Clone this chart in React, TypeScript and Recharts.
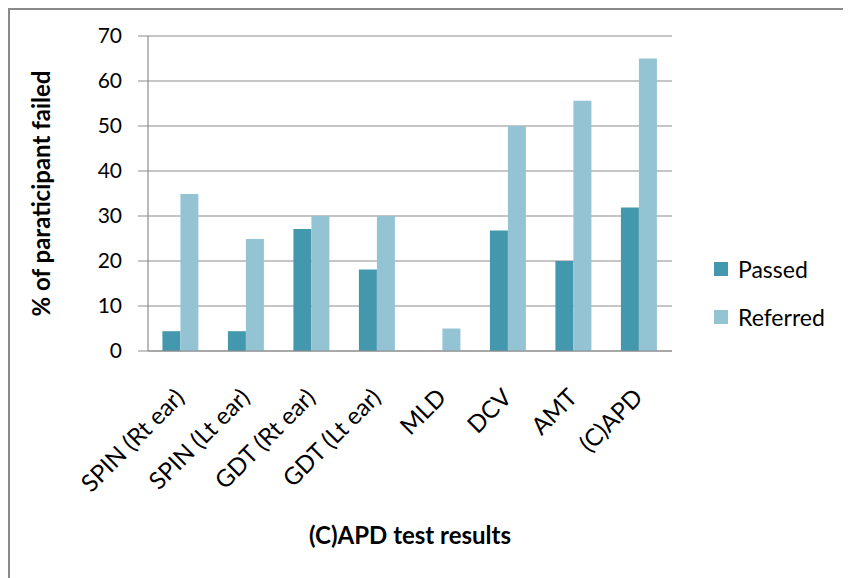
import React from 'react'
import { BarChart, Bar, XAxis, YAxis, CartesianGrid } from 'recharts'

const tests = ['SPIN (Rt ear)', 'SPIN (Lt ear)', 'GDT (Rt ear)', 'GDT (Lt ear)', 'MLD', 'DCV', 'AMT', '(C)APD']
const passed = [4.4, 4.4, 27.1, 18.1, 0, 26.8, 20, 31.9]
const referred = [34.9, 24.9, 30, 30, 5, 50, 55.6, 65]
const yTicks = [0, 10, 20, 30, 40, 50, 60, 70]

const PASSED_COLOR = '#4398ae'
const REFERRED_COLOR = '#94c4d4'
const FONT = 'Lato, "Open Sans", sans-serif'

const data = tests.map((name, i) => ({ name, passed: passed[i], referred: referred[i] }))

// rotated category labels, ending just under the tick
const AngledTick = (props: any) => {
  const { x, y, payload } = props
  return (
    <g transform={`translate(${x - 1},${y + 34})`}>
      <text
        transform="rotate(-45)"
        textAnchor="end"
        dy="0.35em"
        fontSize={24}
        fontFamily={FONT}
        fill="#000"
      >
        {payload.value}
      </text>
    </g>
  )
}

export default function App() {
  return (
    <div
      style={{
        position: 'relative',
        width: 841,
        height: 568,
        borderLeft: '2px solid #8a8a8a',
        borderTop: '2px solid #8a8a8a',
        background: '#fff',
        fontFamily: FONT,
      }}
    >
      <BarChart
        width={841}
        height={568}
        data={data}
        margin={{ top: 26, right: 179, bottom: 0, left: 0 }}
        barCategoryGap="22%"
        barGap={0}
      >
        <CartesianGrid vertical={false} stroke="#8c8c8c" strokeWidth={1.2} />
        <XAxis
          dataKey="name"
          height={227}
          interval={0}
          tickLine={false}
          axisLine={{ stroke: '#8c8c8c', strokeWidth: 1.2 }}
          tick={<AngledTick />}
          label={({ viewBox }: any) => (
            <text
              x={viewBox.x + viewBox.width / 2}
              y={534}
              textAnchor="middle"
              fontSize={24}
              fontWeight="bold"
              fontFamily={FONT}
              fill="#000"
            >
              (C)APD test results
            </text>
          )}
        />
        <YAxis
          width={138}
          domain={[0, 70]}
          ticks={yTicks}
          interval={0}
          tickSize={10}
          tickMargin={16}
          tickLine={{ stroke: '#8c8c8c' }}
          axisLine={{ stroke: '#8c8c8c', strokeWidth: 1.2 }}
          tick={{ fontSize: 21, fontFamily: FONT, fill: '#000' }}
          label={({ viewBox }: any) => {
            const cx = 30
            const cy = viewBox.y + viewBox.height / 2
            return (
              <text
                x={cx}
                y={cy}
                transform={`rotate(-90, ${cx}, ${cy})`}
                textAnchor="middle"
                dominantBaseline="central"
                fontSize={24}
                fontWeight="bold"
                fontFamily={FONT}
                fill="#000"
              >
                % of paraticipant failed
              </text>
            )
          }}
        />
        <Bar dataKey="passed" name="Passed" fill={PASSED_COLOR} isAnimationActive={false} />
        <Bar dataKey="referred" name="Referred" fill={REFERRED_COLOR} isAnimationActive={false} />
      </BarChart>
      <div style={{ position: 'absolute', left: 704, top: 246, fontSize: 23, color: '#000' }}>
        {[
          { label: 'Passed', color: PASSED_COLOR },
          { label: 'Referred', color: REFERRED_COLOR },
        ].map((item, i) => (
          <div
            key={item.label}
            style={{ display: 'flex', alignItems: 'center', height: 26, marginBottom: i === 0 ? 22 : 0 }}
          >
            <span style={{ width: 14, height: 14, background: item.color, marginRight: 10 }} />
            <span>{item.label}</span>
          </div>
        ))}
      </div>
    </div>
  )
}
